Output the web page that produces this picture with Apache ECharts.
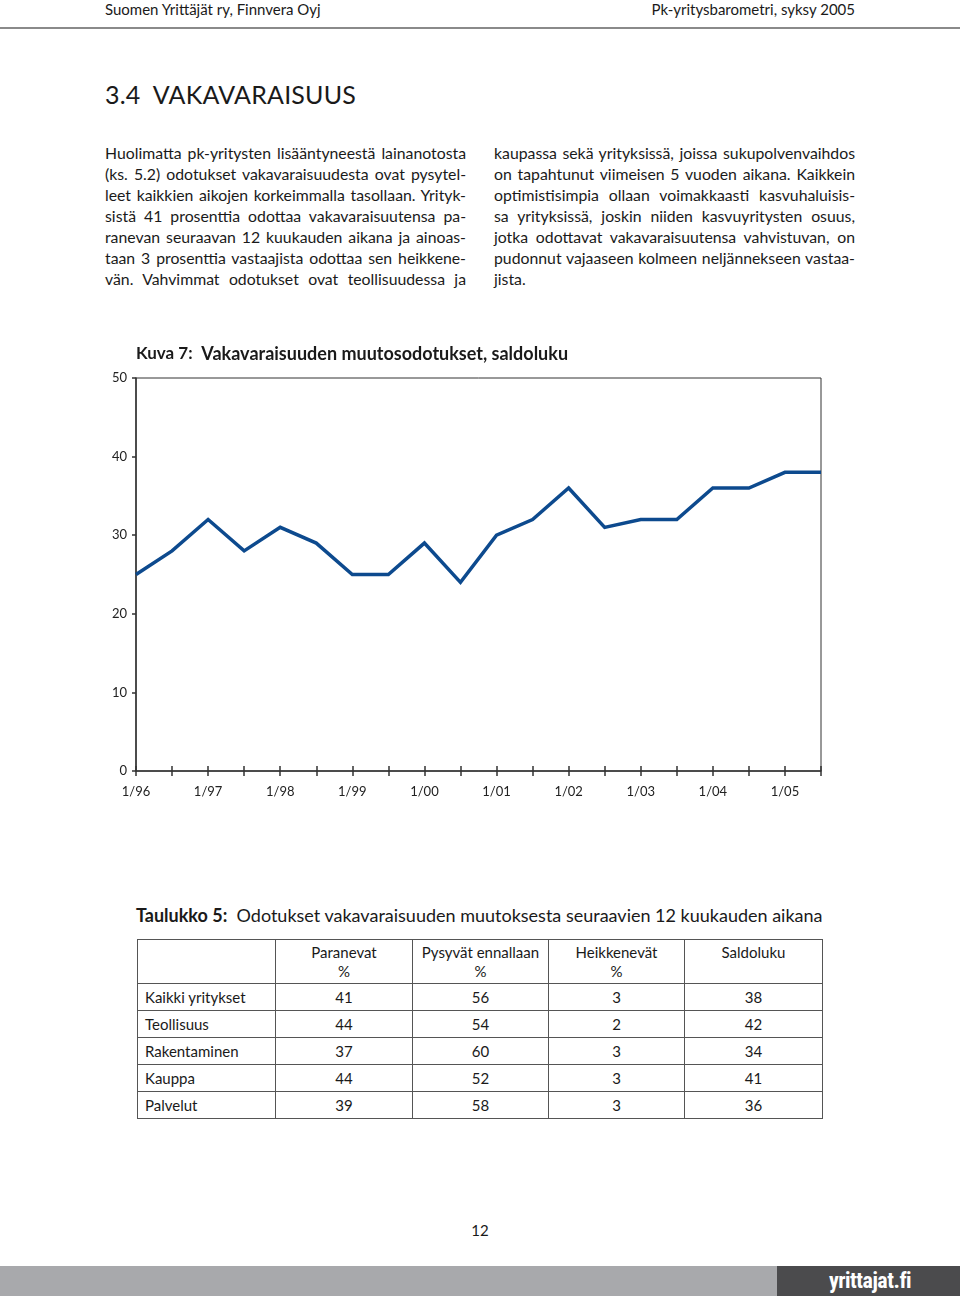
<!DOCTYPE html>
<html>
<head>
<meta charset="utf-8">
<script src="https://cdn.jsdelivr.net/npm/echarts@6/dist/echarts.min.js"></script>
<style>
  html, body { margin: 0; padding: 0; background: #fff; }
  body { width: 960px; height: 1296px; position: relative; overflow: hidden; font-family: Lato, "Open Sans", sans-serif; color: #1a1a1a; }
  .abs { position: absolute; }
  .hdr { top: 0; font-size: 15px; line-height: 18px; }
  .rule { left: 0; top: 27px; width: 960px; height: 2px; background: #8a8a8a; }
  .h1 { left: 105px; top: 79px; font-size: 25px; line-height: 30px; font-weight: 400; letter-spacing: 0.2px; }
  .col { width: 361px; font-size: 15.8px; line-height: 21px; }
  .col div { white-space: nowrap; text-align: justify; text-align-last: justify; height: 21px; }
  .col div.last { text-align-last: left; }
  #chart { left: 0; top: 330px; width: 960px; height: 490px; }
  .ttl { font-size: 18px; line-height: 22px; }
  table { border-collapse: collapse; font-size: 15px; table-layout: fixed; }
  td { border: 1px solid #555; padding: 0; text-align: center; }
  td.lab { text-align: left; padding-left: 7px; }
  tr.head td { height: 40px; vertical-align: top; line-height: 19px; padding-top: 3px; }
  tr.row td { height: 26px; line-height: 26px; }
  .pg { left: 0; width: 960px; text-align: center; top: 1221px; font-size: 15px; }
  .bar1 { left: 0; top: 1266px; width: 777px; height: 30px; background: #a8a9ac; }
  .bar2 { left: 777px; top: 1266px; width: 183px; height: 30px; background: #4b4b4d; color: #fff; font-family: "Liberation Sans Narrow", "Roboto Condensed", Roboto, sans-serif; font-weight: 700; font-size: 22px; line-height: 28px; letter-spacing: -0.5px; }
</style>
</head>
<body>
<div class="abs hdr" style="left:105px">Suomen Yrittäjät ry, Finnvera Oyj</div>
<div class="abs hdr" style="right:105px;text-align:right">Pk-yritysbarometri, syksy 2005</div>
<div class="abs rule"></div>
<div class="abs h1">3.4&nbsp; VAKAVARAISUUS</div>

<div class="abs col" style="left:105px;top:142px">
  <div>Huolimatta pk-yritysten lisääntyneestä lainanotosta</div>
  <div>(ks. 5.2) odotukset vakavaraisuudesta ovat pysytel-</div>
  <div>leet kaikkien aikojen korkeimmalla tasollaan. Yrityk-</div>
  <div>sistä 41 prosenttia odottaa vakavaraisuutensa pa-</div>
  <div>ranevan seuraavan 12 kuukauden aikana ja ainoas-</div>
  <div>taan 3 prosenttia vastaajista odottaa sen heikkene-</div>
  <div>vän. Vahvimmat odotukset ovat teollisuudessa ja</div>
</div>
<div class="abs col" style="left:494px;top:142px">
  <div>kaupassa sekä yrityksissä, joissa sukupolvenvaihdos</div>
  <div>on tapahtunut viimeisen 5 vuoden aikana. Kaikkein</div>
  <div>optimistisimpia ollaan voimakkaasti kasvuhaluisis-</div>
  <div>sa yrityksissä, joskin niiden kasvuyritysten osuus,</div>
  <div>jotka odottavat vakavaraisuutensa vahvistuvan, on</div>
  <div>pudonnut vajaaseen kolmeen neljännekseen vastaa-</div>
  <div class="last">jista.</div>
</div>

<div id="chart" class="abs"></div>

<div class="abs ttl" style="left:136px;top:904px"><b>Taulukko 5:</b>&nbsp; Odotukset vakavaraisuuden muutoksesta seuraavien 12 kuukauden aikana</div>
<div class="abs" style="left:137px;top:939px">
  <table id="tbl"></table>
</div>

<div class="abs pg">12</div>
<div class="abs bar1"></div>
<div class="abs bar2"><span style="position:absolute;left:52px;top:1px">yrittajat.fi</span></div>

<script>
// Chart data (semi-annual, Kuva 7)
const periods = ['1/96','2/96','1/97','2/97','1/98','2/98','1/99','2/99','1/00','2/00',
                 '1/01','2/01','1/02','2/02','1/03','2/03','1/04','2/04','1/05','2/05'];
const saldoluku = [25, 28, 32, 28, 31, 29, 25, 25, 29, 24,
                   30, 32, 36, 31, 32, 32, 36, 36, 38, 38];
const yTicks = [0, 10, 20, 30, 40, 50];

// Table data (Taulukko 5)
const tableHeaders = ['', 'Paranevat<br>%', 'Pysyvät ennallaan<br>%', 'Heikkenevät<br>%', 'Saldoluku'];
const tableRows = ['Kaikki yritykset', 'Teollisuus', 'Rakentaminen', 'Kauppa', 'Palvelut'];
const paranevat = [41, 44, 37, 44, 39];
const pysyvat = [56, 54, 60, 52, 58];
const heikkenevat = [3, 2, 3, 3, 3];
const saldo = [38, 42, 34, 41, 36];

// Build table
(function () {
  const widths = [138, 137, 136, 136, 138];
  let html = '<colgroup>' + widths.map(w => '<col style="width:' + w + 'px">').join('') + '</colgroup>';
  html += '<tr class="head">' + tableHeaders.map(h => '<td>' + h + '</td>').join('') + '</tr>';
  tableRows.forEach((r, i) => {
    html += '<tr class="row"><td class="lab">' + r + '</td><td>' + paranevat[i] + '</td><td>' +
      pysyvat[i] + '</td><td>' + heikkenevat[i] + '</td><td>' + saldo[i] + '</td></tr>';
  });
  document.getElementById('tbl').innerHTML = html;
})();

const chart = echarts.init(document.getElementById('chart'), null, { renderer: 'canvas' });
const axisColor = '#333';
const fontFam = 'Lato, "Open Sans", sans-serif';
chart.setOption({
  animation: false,
  textStyle: { fontFamily: fontFam },
  title: {
    left: 131, top: 10,
    text: '{b|Kuva 7:}  {n|Vakavaraisuuden muutosodotukset, saldoluku}',
    textStyle: {
      rich: {
        b: { fontWeight: 'bold', fontSize: 17, color: '#1a1a1a', fontFamily: fontFam },
        n: { fontSize: 18, color: '#1a1a1a', fontFamily: fontFam }
      }
    }
  },
  grid: { left: 136, right: 139, top: 48, bottom: 49, show: true, borderColor: axisColor, borderWidth: 1, backgroundColor: 'transparent' },
  xAxis: [
    {
      type: 'category', data: periods, boundaryGap: false, position: 'bottom',
      axisLine: { lineStyle: { color: axisColor, width: 1.5 } },
      axisTick: { show: true, interval: 0, length: 5, lineStyle: { color: axisColor, width: 1.5 } },
      axisLabel: { interval: 1, margin: 14, fontSize: 13, color: '#222', fontFamily: fontFam },
      splitLine: { show: false }
    },
    {
      type: 'category', data: periods, boundaryGap: false, position: 'bottom',
      axisLine: { show: false },
      axisTick: { show: true, inside: true, interval: 0, length: 5, lineStyle: { color: axisColor, width: 1.5 } },
      axisLabel: { show: false },
      splitLine: { show: false }
    }
  ],
  yAxis: {
    type: 'value', min: yTicks[0], max: yTicks[yTicks.length - 1], interval: 10,
    axisLine: { show: true, lineStyle: { color: axisColor, width: 1.5 } },
    axisTick: { show: true, length: 4, lineStyle: { color: axisColor, width: 1.5 } },
    axisLabel: { margin: 9, fontSize: 13, color: '#222', fontFamily: fontFam },
    splitLine: { show: false }
  },
  series: [{
    type: 'line', data: saldoluku, xAxisIndex: 0,
    symbol: 'none', smooth: false,
    lineStyle: { color: '#0d4a8e', width: 3.5, join: 'miter' },
    itemStyle: { color: '#0d4a8e' }
  }]
});
</script>
</body>
</html>
